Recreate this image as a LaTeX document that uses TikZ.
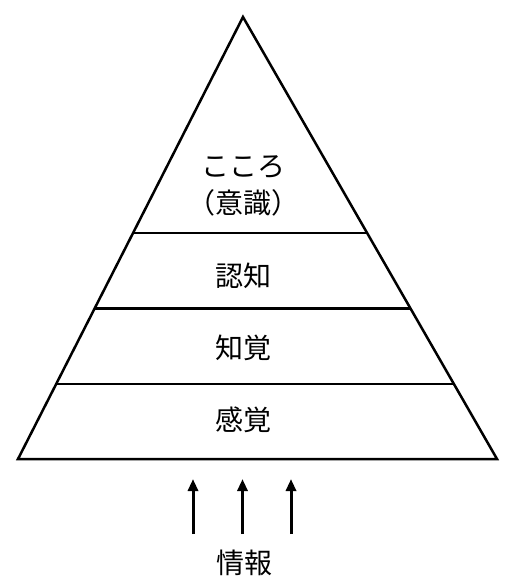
\documentclass[tikz,border=0pt]{standalone}
\usepackage{fontspec}
\setmainfont{Noto Sans CJK JP}
\usetikzlibrary{arrows.meta,calc}

\begin{document}
\begin{tikzpicture}[x=1pt,y=-1pt,line width=2.5pt,>={Triangle[length=12pt,width=10pt]},
	layer/.style={font=\fontsize{28}{37.5}\selectfont,inner sep=0pt,align=center}]

\useasboundingbox (0,0) rectangle (512,586);

\coordinate (apex) at (243,17);
 \coordinate (bl) at (18,459);
	\coordinate (br) at (497,459);

	\draw[line join=miter] (apex) -- (bl) -- (br) -- cycle;

	\draw ($(apex)!0.489!(bl)$) -- ($(apex)!0.489!(br)$);
		\draw ($(apex)!0.659!(bl)$) -- ($(apex)!0.659!(br)$);
		\draw ($(apex)!0.830!(bl)$) -- ($(apex)!0.830!(br)$);

\node[layer]   (mind)      at (243,186)		{こころ\\（意識）};
	\node[layer]   (cog)   at (243,275.5)      {認知};
		\node[layer]   (perc)  at (243,347.5)      {知覚};
		\node[layer]   (sens)  at (243,420)        {感覚};
		\node[layer]   (info)  at (244.5,562.5)    {情報};

	\coordinate (s1) at (193,534);	\coordinate (t1) at (193,479);
	\coordinate (s2) at (242.5,534);	\coordinate (t2) at (242.5,479);
	\coordinate (s3) at (291,534);	\coordinate (t3) at (291,479);

	\path[->,line width=3pt] (s1) edge (t1)
					(s2) edge (t2)
					(s3) edge (t3);

	\end{tikzpicture}
\end{document}
